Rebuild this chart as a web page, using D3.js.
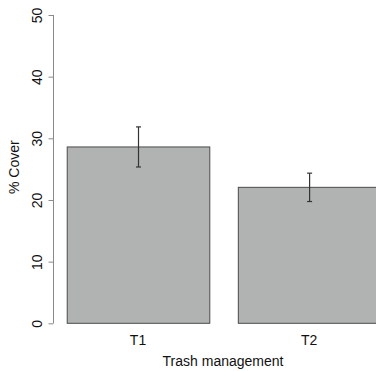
<!DOCTYPE html>
<html>
<head>
<meta charset="utf-8">
<script src="https://cdn.jsdelivr.net/npm/d3@7"></script>
<style>
html,body{margin:0;padding:0;background:#fff;}
svg{display:block;}
text{font-family:"Liberation Sans",Arial,Helvetica,sans-serif;fill:#111;}
</style>
</head>
<body>
<svg id="chart" width="376" height="371"></svg>
<script>
const categories = ["T1", "T2"];
const means = [28.6, 22.05];
const errors = [3.25, 2.3];
const yTicks = [0, 10, 20, 30, 40, 50];
const xTitle = "Trash management";
const yTitle = "% Cover";

const data = categories.map((c, i) => ({cat: c, mean: means[i], err: errors[i]}));

const svg = d3.select("#chart");
const W = 376, H = 371;
const fs = 14;

const y = d3.scaleLinear().domain([0, 50]).range([323.3, 15]);
const x = d3.scaleBand().domain(categories).range([38.2, 380.4])
  .paddingInner(1/6).paddingOuter(1/12).align(1);

// bars
svg.append("g").selectAll("rect").data(data).join("rect")
  .attr("x", d => x(d.cat) + 0.5)
  .attr("y", d => y(d.mean))
  .attr("width", x.bandwidth())
  .attr("height", d => y(0) - y(d.mean))
  .attr("fill", "#b1b3b3")
  .attr("stroke", "#4a4a4a")
  .attr("stroke-width", 1);

// error bars
const eg = svg.append("g").attr("stroke", "#333").attr("stroke-width", 1.2);
data.forEach(d => {
  const cx = x(d.cat) + x.bandwidth() / 2 + 0.5;
  eg.append("line").attr("x1", cx).attr("x2", cx)
    .attr("y1", y(d.mean + d.err)).attr("y2", y(d.mean - d.err));
  [d.mean + d.err, d.mean - d.err].forEach(v => {
    eg.append("line").attr("x1", cx - 2.5).attr("x2", cx + 2.5)
      .attr("y1", y(v)).attr("y2", y(v));
  });
});

// y axis
const axisX = 53.5;
const ya = svg.append("g").attr("transform", `translate(${axisX},0)`)
  .call(d3.axisLeft(y).tickValues(yTicks).tickSize(5).tickPadding(7).tickFormat(d3.format("d")));
ya.select(".domain").remove();
ya.append("line").attr("x1", 0).attr("x2", 0)
  .attr("y1", y(0)).attr("y2", y(50)).attr("stroke", "#8a8a8a");
ya.selectAll(".tick line").attr("stroke", "#8a8a8a");
ya.selectAll(".tick text")
  .attr("font-size", fs)
  .attr("fill", "#111")
  .attr("x", null).attr("dy", null)
  .attr("text-anchor", "middle")
  .attr("transform", "translate(-11.5,0) rotate(-90)");

// x labels
svg.append("g").selectAll("text").data(data).join("text")
  .attr("x", d => x(d.cat) + x.bandwidth() / 2)
  .attr("y", 345)
  .attr("text-anchor", "middle")
  .attr("font-size", fs)
  .text(d => d.cat);

// titles
svg.append("text").attr("x", 223).attr("y", 365.5)
  .attr("text-anchor", "middle").attr("font-size", fs).text(xTitle);
svg.append("text")
  .attr("transform", `translate(19,${(y(0) + y(50)) / 2 - 2}) rotate(-90)`)
  .attr("text-anchor", "middle").attr("font-size", fs).text(yTitle);
</script>
</body>
</html>
